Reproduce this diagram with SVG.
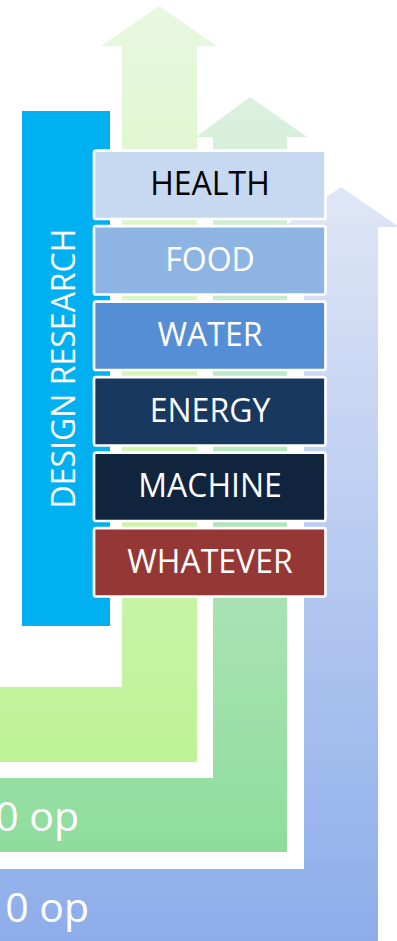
<svg xmlns="http://www.w3.org/2000/svg" width="397" height="941" viewBox="0 0 397 941">
  <defs>
    <linearGradient id="g1" gradientUnits="userSpaceOnUse" x1="0" y1="6" x2="0" y2="762">
      <stop offset="0" stop-color="#e8f8e0"/>
      <stop offset="1" stop-color="#bff296"/>
    </linearGradient>
    <linearGradient id="g2" gradientUnits="userSpaceOnUse" x1="0" y1="97" x2="0" y2="852">
      <stop offset="0" stop-color="#dcf0e0"/>
      <stop offset="1" stop-color="#8fdc9d"/>
    </linearGradient>
    <linearGradient id="g3" gradientUnits="userSpaceOnUse" x1="0" y1="187" x2="0" y2="941">
      <stop offset="0" stop-color="#dfe6f6"/>
      <stop offset="1" stop-color="#8dadea"/>
    </linearGradient>
  </defs>
  <style>
    .box { stroke: #ffffff; stroke-width: 2.7; }
    .lbl { font-family: "Open Sans", "Noto Sans", sans-serif; font-size: 32px; text-anchor: middle; fill: #ffffff; }
    .op { font-family: "Open Sans", "Noto Sans", sans-serif; font-size: 41px; text-anchor: end; fill: #ffffff; }
  </style>
  <rect width="397" height="941" fill="#ffffff"/>
  <g id="arrows">
    <g id="arrow-1">
      <path d="M159 6 L217 46 L197 46 L197 762 L-5 762 L-5 687 L122 687 L122 46 L101 46 Z" fill="url(#g1)"/>
    </g>
    <g id="arrow-2">
      <path d="M250 97 L307 137 L287 137 L287 852 L-5 852 L-5 778 L213 778 L213 137 L196 137 Z" fill="url(#g2)"/>
      <text class="op" x="79" y="831">0 op</text>
    </g>
    <g id="arrow-3">
      <path d="M341 187 L399 227 L378 227 L378 950 L-5 950 L-5 869 L304 869 L304 227 L283 227 Z" fill="url(#g3)"/>
      <text class="op" x="89" y="922">0 op</text>
    </g>
  </g>
  <g id="design-research">
    <rect x="22" y="111" width="88" height="515" fill="#00b0f0"/>
    <text class="lbl" transform="translate(75 368.5) rotate(-90)" x="0" y="0">DESIGN RESEARCH</text>
  </g>
  <g id="health">
    <rect class="box" x="94" y="150.7" width="231.5" height="68.3" rx="2" fill="#c6d9f1"/>
    <text class="lbl" x="210" y="195" fill="#000000" style="fill:#000000">HEALTH</text>
  </g>
  <g id="food">
    <rect class="box" x="94" y="226.2" width="231.5" height="68.3" rx="2" fill="#8eb4e3"/>
    <text class="lbl" x="210" y="270.5">FOOD</text>
  </g>
  <g id="water">
    <rect class="box" x="94" y="301.7" width="231.5" height="68.3" rx="2" fill="#558ed5"/>
    <text class="lbl" x="210" y="346">WATER</text>
  </g>
  <g id="energy">
    <rect class="box" x="94" y="377.2" width="231.5" height="68.3" rx="2" fill="#18385f"/>
    <text class="lbl" x="210" y="421.5">ENERGY</text>
  </g>
  <g id="machine">
    <rect class="box" x="94" y="452.7" width="231.5" height="68.3" rx="2" fill="#10243e"/>
    <text class="lbl" x="210" y="497">MACHINE</text>
  </g>
  <g id="whatever">
    <rect class="box" x="94" y="528.2" width="231.5" height="68.3" rx="2" fill="#953735"/>
    <text class="lbl" x="210" y="572.5">WHATEVER</text>
  </g>
</svg>
